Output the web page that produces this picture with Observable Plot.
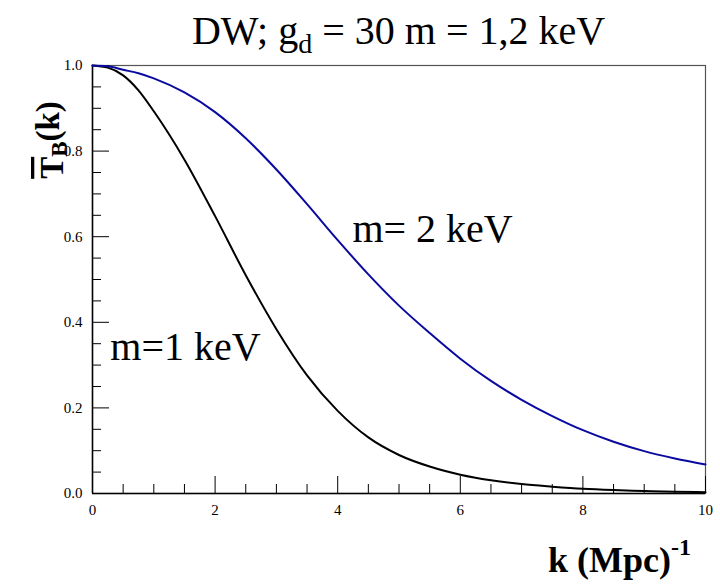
<!DOCTYPE html>
<html>
<head>
<meta charset="utf-8">
<script src="https://cdn.jsdelivr.net/npm/d3@7"></script>
<script src="https://cdn.jsdelivr.net/npm/@observablehq/plot@0.6"></script>
</head>
<body style="margin:0;background:#fff">
<div style="position:relative;width:720px;height:588px">
  <div id="title" style="position:absolute;left:92px;top:11px;width:613px;text-align:center;font-family:'Liberation Serif';font-size:40px;line-height:40px;color:#000;white-space:nowrap">DW; g<span style="font-size:28px;position:relative;top:9px">d</span> = 30 m = 1,2 keV</div>
  <div id="chart"></div>
</div>
<script>
// Wave numbers k (Mpc^-1)
const kValues = [0, 0.25, 0.5, 0.75, 1.0, 1.5, 2.0, 2.5, 3.0, 3.5, 4.0, 4.5, 5.0, 5.5, 6.0, 6.5, 7.0, 7.5, 8.0, 8.5, 9.0, 9.5, 10];
// Transfer function, m = 1 keV (black)
const tM1 = [1.0, 0.995, 0.977, 0.942, 0.893, 0.780, 0.648, 0.510, 0.384, 0.276, 0.193, 0.131, 0.090, 0.063, 0.044, 0.031, 0.022, 0.016, 0.011, 0.008, 0.006, 0.004, 0.003];
// Transfer function, m = 2 keV (blue)
const tM2 = [1.0, 0.998, 0.990, 0.982, 0.970, 0.937, 0.891, 0.830, 0.757, 0.676, 0.592, 0.512, 0.439, 0.375, 0.315, 0.263, 0.219, 0.181, 0.148, 0.121, 0.099, 0.082, 0.068];

const seriesNames = ["m=1 keV", "m= 2 keV"];
const seriesColors = ["#000000", "#0a0aa0"];

// Axis ticks
const xMajorTicks = [0, 2, 4, 6, 8, 10];
const xMinorTicks = [0.5, 1, 1.5, 2.5, 3, 3.5, 4.5, 5, 5.5, 6.5, 7, 7.5, 8.5, 9, 9.5];
const yMajorTicks = [0, 0.2, 0.4, 0.6, 0.8, 1.0];
const yMinorTicks = [0.05, 0.1, 0.15, 0.25, 0.3, 0.35, 0.45, 0.5, 0.55, 0.65, 0.7, 0.75, 0.85, 0.9, 0.95];

// Curve labels (anchored at data positions)
const labelText = ["m= 2 keV", "m=1 keV"];
const labelK = [4.24, 0.29];
const labelT = [0.588, 0.311];

const rows = [];
kValues.forEach((k, i) => {
  rows.push({k, t: tM1[i], s: seriesNames[0]});
});
kValues.forEach((k, i) => {
  rows.push({k, t: tM2[i], s: seriesNames[1]});
});
const labels = labelText.map((text, i) => ({text, k: labelK[i], t: labelT[i]}));

const W = 720, H = 588;
const mL = 92, mR = 15, mT = 65, mB = 95;
const innerH = H - mT - mB;
const innerW = W - mL - mR;
const majorLen = 17, minorLen = 9;
const serif = "Liberation Serif";

const chart = Plot.plot({
  width: W,
  height: H,
  marginLeft: mL,
  marginRight: mR,
  marginTop: mT,
  marginBottom: mB,
  style: {fontFamily: serif, fontSize: "15px", color: "#000", background: "#fff", display: "block"},
  x: {domain: [0, 10]},
  y: {domain: [0, 1]},
  color: {domain: seriesNames, range: seriesColors},
  marks: [
    Plot.frame({stroke: "#555", strokeWidth: 1.2}),
    // ticks pointing inward (ROOT style)
    Plot.tickX(xMajorTicks, {x: d => d, stroke: "#000", strokeWidth: 1, insetTop: innerH - majorLen}),
    Plot.tickX(xMinorTicks, {x: d => d, stroke: "#000", strokeWidth: 1, insetTop: innerH - minorLen}),
    Plot.tickY(yMajorTicks, {y: d => d, stroke: "#000", strokeWidth: 1, insetRight: innerW - majorLen}),
    Plot.tickY(yMinorTicks, {y: d => d, stroke: "#000", strokeWidth: 1, insetRight: innerW - minorLen}),
    Plot.ruleX([0], {stroke: "#000", strokeWidth: 1.5}),
    Plot.ruleY([0], {stroke: "#000", strokeWidth: 1.5}),
    Plot.axisX({ticks: xMajorTicks, tickSize: 0, tickPadding: 11, tickFormat: d3.format("d"), label: null, fontSize: 15}),
    Plot.axisY({ticks: yMajorTicks, tickSize: 0, tickPadding: 10, tickFormat: d3.format(".1f"), label: null, fontSize: 15}),
    Plot.line(rows, {x: "k", y: "t", z: "s", stroke: "s", strokeWidth: 2, curve: "monotone-x"}),
    Plot.text(labels, {x: "k", y: "t", text: "text", textAnchor: "start", lineAnchor: "bottom", fontSize: 40, fill: "#000"})
  ]
});

document.getElementById("chart").appendChild(chart);

const svg = d3.select(chart);

// Y axis label
const yl = svg.append("text")
  .attr("transform", "translate(63,140) rotate(-90)")
  .attr("text-anchor", "middle")
  .attr("font-family", serif)
  .attr("font-weight", "bold")
  .attr("font-size", 33)
  .attr("fill", "#000");
yl.append("tspan").style("text-decoration", "overline").text("T");
yl.append("tspan").attr("font-size", 23).attr("dy", 4).text("B");
yl.append("tspan").attr("dy", -8).text("(k)");

// X axis label
const xl = svg.append("text")
  .attr("x", 691)
  .attr("y", 572)
  .attr("text-anchor", "end")
  .attr("font-family", serif)
  .attr("font-weight", "bold")
  .attr("font-size", 36)
  .attr("fill", "#000");
xl.append("tspan").text("k (Mpc)");
xl.append("tspan").attr("font-size", 24).attr("dy", -17).text("-1");
</script>
</body>
</html>
